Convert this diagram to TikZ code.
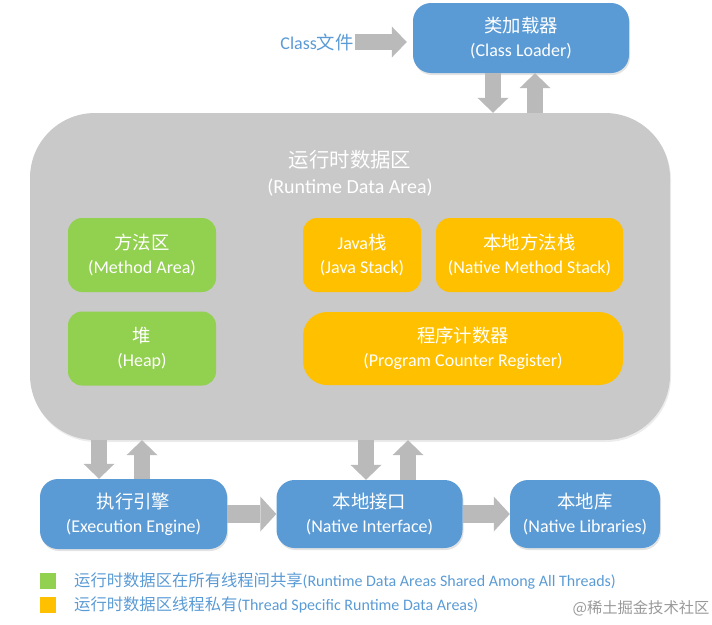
\documentclass[tikz,border=0pt]{standalone}
\usepackage{fontspec}
\setmainfont{Carlito}
\newfontfamily\zhfont{Noto Sans CJK SC}[Scale=1.02]
\newcommand{\zh}[1]{{\zhfont #1}}
\usetikzlibrary{arrows.meta,shadows}
\definecolor{jvmblue}{HTML}{5B9BD5}
\definecolor{sharedgreen}{HTML}{92D050}
\definecolor{privateorange}{HTML}{FFC000}
\definecolor{areagray}{HTML}{C9C9C9}
\definecolor{arrowgray}{HTML}{BABABA}

\begin{document}
\begin{tikzpicture}[x=1pt, y=-1pt,
    box/.style={rounded corners=14pt, inner sep=0pt, align=center, text=white, font=\fontsize{18}{24}\selectfont},
    bluebox/.style={box, fill=jvmblue, rounded corners=18pt, minimum height=70pt,
        drop shadow={opacity=0.22, shadow xshift=1pt, shadow yshift=-2pt}},
    greenbox/.style={box, fill=sharedgreen, minimum width=148pt, minimum height=74pt},
    orangebox/.style={box, fill=privateorange, minimum height=74pt},
    bigarrow/.style={draw=arrowgray, line width=16pt, -{Triangle[width=31pt, length=15pt, line width=0pt]}},
    widearrow/.style={bigarrow, line width=18pt, -{Triangle[width=35pt, length=16pt, line width=0pt]}}]
    \useasboundingbox (0,0) rectangle (712,624);

    % runtime data area
    \node[fill=areagray, rounded corners=65pt, minimum width=640pt, minimum height=327pt,
        drop shadow={opacity=0.15, shadow xshift=1pt, shadow yshift=-2pt}] (area) at (350,276.5) {};
    \node[text=white, align=center, font=\fontsize{20}{26}\selectfont] (areatitle) at (350,173)
        {\zh{运行时数据区}\\(Runtime Data Area)};
    \node[greenbox] (method) at (142,255) {\zh{方法区}\\(Method Area)};
    \node[greenbox] (heap) at (142,348.5) {\zh{堆}\\(Heap)};
    \node[orangebox, minimum width=118pt] (jstack) at (362,255) {Java\zh{栈}\\(Java Stack)};
    \node[orangebox, minimum width=187pt] (nstack) at (529.5,255) {\zh{本地方法栈}\\(Native Method Stack)};
    \node[orangebox, minimum width=320pt, minimum height=73pt, rounded corners=24pt] (pc) at (463,348.5)
        {\zh{程序计数器}\\(Program Counter Register)};

    % loader and engines
    \node[bluebox, minimum width=216pt] (loader) at (521,38) {\zh{类加载器}\\(Class Loader)};
    \node[text=jvmblue, font=\fontsize{18}{18}\selectfont, inner sep=1pt] (classfile) at (317,42) {Class\zh{文件}};
    \node[bluebox, minimum width=187pt] (ee) at (133.5,514) {\zh{执行引擎}\\(Execution Engine)};
    \node[bluebox, minimum width=186pt, minimum height=68pt] (ni) at (369.5,514) {\zh{本地接口}\\(Native Interface)};
    \node[bluebox, minimum width=150pt, minimum height=68pt] (nl) at (585,514) {\zh{本地库}\\(Native Libraries)};

    % arrows
    \draw[bigarrow, shorten >=6pt] (classfile.east) -- (classfile.east -| loader.west);
    \coordinate (ldown) at ([xshift=-28pt]loader.south);
    \coordinate (lup) at ([xshift=14pt]loader.south);
    \coordinate (edown) at ([xshift=-34.5pt]ee.north);
    \coordinate (eup) at ([xshift=8.5pt]ee.north);
    \coordinate (ndown) at ([xshift=-3.5pt]ni.north);
    \coordinate (nup) at ([xshift=38.5pt]ni.north);
    \draw[bigarrow] (ldown) -- (ldown |- area.north);
    \draw[bigarrow] (lup |- area.north) -- (lup);
    \foreach \dn/\up in {edown/eup, ndown/nup} {
        \draw[bigarrow] (\dn |- area.south) -- (\dn);
        \draw[bigarrow] (\up) -- (\up |- area.south);
    }
    \draw[widearrow] (ee.east) -- (ni.west);
    \draw[widearrow] (ni.east) -- (nl.west);

    % legend
    \foreach \col/\ypos/\txt in {sharedgreen/581/{\zh{运行时数据区在所有线程间共享}(Runtime Data Areas Shared Among All Threads)},
        privateorange/605/{\zh{运行时数据区线程私有}(Thread Specific Runtime Data Areas)}} {
        \node[fill=\col, minimum size=16pt, inner sep=0pt] (key-\col) at (48,\ypos) {};
        \node[anchor=west, text=jvmblue, font=\fontsize{16}{16}\selectfont, inner sep=0pt] (label-\col) at (74,\ypos) {\txt};
    }
    \node[text=black!40, font=\fontsize{15}{15}\selectfont, inner sep=0pt] (credit) at (641,608) {\zh{@稀土掘金技术社区}};
\end{tikzpicture}
\end{document}
